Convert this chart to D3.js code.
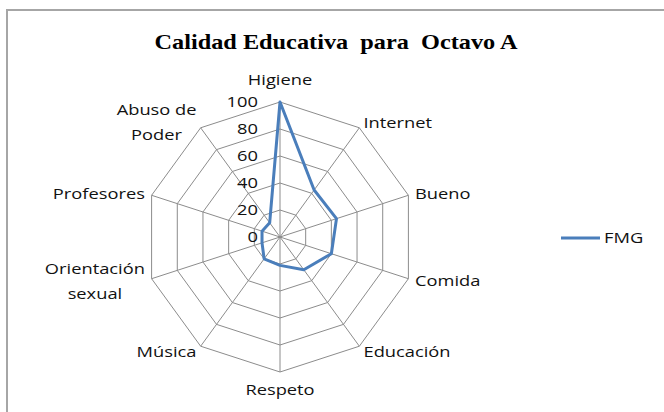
<!DOCTYPE html>
<html>
<head>
<meta charset="utf-8">
<script src="https://cdn.jsdelivr.net/npm/d3@7"></script>
<style>
  body { margin: 0; background: #fff; }
  svg { display: block; }
  text { font-family: "Open Sans", sans-serif; fill: #111; }
</style>
</head>
<body>
<svg id="chart" width="664" height="412"></svg>
<script>
// axes of the radar, clockwise from the top
var categories = ["Higiene", "Internet", "Bueno", "Comida", "Educación",
                  "Respeto", "Música", "Orientación sexual", "Profesores", "Abuso de Poder"];
// label lines (two-line labels are split the way the chart shows them)
var categoryLines = [["Higiene"], ["Internet"], ["Bueno"], ["Comida"], ["Educación"],
                     ["Respeto"], ["Música"], ["Orientación", "sexual"], ["Profesores"], ["Abuso de", "Poder"]];
var seriesName = "FMG";
var fmgValues = [100, 43, 44, 40, 30, 21, 20, 14, 14, 13];
var tickValues = [0, 20, 40, 60, 80, 100];

function init() {
    var svg = d3.select("#chart");
    var cx = 280, cy = 237, radius = 135;
    var sx = 1.22; // text in the picture is drawn wide
    var fontSize = "15px";

    // chart frame (runs off the right and bottom edges)
    svg.append("rect")
        .attr("x", 7).attr("y", 10)
        .attr("width", 700).attr("height", 450)
        .attr("fill", "none")
        .attr("stroke", "#a6a6a6")
        .attr("stroke-width", 2);

    // title
    svg.append("text")
        .attr("x", 336).attr("y", 49)
        .attr("text-anchor", "middle")
        .style("font-family", "'Liberation Serif', 'Times New Roman', serif")
        .style("font-weight", "bold")
        .style("font-size", "21px")
        .style("fill", "#000")
        .attr("xml:space", "preserve")
        .attr("textLength", 363)
        .attr("lengthAdjust", "spacingAndGlyphs")
        .text("Calidad Educativa  para  Octavo A");

    var r = d3.scaleLinear().domain([0, 100]).range([0, radius]);
    var angle = d3.scaleLinear().domain([0, categories.length]).range([0, 2 * Math.PI]);

    function point(i, v) {
        var a = angle(i);
        return [cx + Math.sin(a) * r(v), cy - Math.cos(a) * r(v)];
    }

    var g = svg.append("g");

    // grid rings
    var ringLine = d3.line().curve(d3.curveLinearClosed);
    g.append("g").attr("class", "rings")
        .selectAll("path")
        .data(tickValues.filter(function (t) { return t > 0; }))
        .enter()
        .append("path")
        .attr("d", function (t) {
            return ringLine(categories.map(function (c, i) { return point(i, t); }));
        })
        .attr("fill", "none")
        .attr("stroke", "#8c8c8c")
        .attr("stroke-width", 1);

    // spokes
    g.append("g").attr("class", "spokes")
        .selectAll("line")
        .data(categories)
        .enter()
        .append("line")
        .attr("x1", cx).attr("y1", cy)
        .attr("x2", function (d, i) { return point(i, 100)[0]; })
        .attr("y2", function (d, i) { return point(i, 100)[1]; })
        .attr("stroke", "#8c8c8c")
        .attr("stroke-width", 1);

    // series
    g.append("path")
        .datum(fmgValues)
        .attr("d", ringLine(fmgValues.map(function (v, i) { return point(i, v); })))
        .attr("fill", "none")
        .attr("stroke", "#4a7ebb")
        .attr("stroke-width", 3)
        .attr("stroke-linejoin", "round");

    // tick labels along the top axis
    g.append("g").attr("class", "ticks")
        .selectAll("text")
        .data(tickValues)
        .enter()
        .append("text")
        .attr("transform", function (t) {
            return "translate(" + (cx - 22) + "," + (cy - r(t)) + ") scale(" + sx + ",1)";
        })
        .attr("text-anchor", "end")
        .attr("dy", "0.36em")
        .style("font-size", fontSize)
        .text(function (t) { return t; });

    // category labels
    var labelR = 142;
    var lh = 25;
    categoryLines.forEach(function (lines, i) {
        var a = angle(i);
        var px = cx + Math.sin(a) * labelR;
        var py = cy - Math.cos(a) * labelR;
        var s = Math.sin(a), c = Math.cos(a);
        var anchor = Math.abs(s) < 0.01 ? "middle" : (s > 0 ? "start" : "end");
        if (Math.abs(s) < 0.01) {
            py += c > 0 ? -15 : 11;
        }
        var lab = g.append("g")
            .attr("transform", "translate(" + px + "," + py + ") scale(" + sx + ",1)");
        var t = lab.append("text")
            .attr("text-anchor", "middle")
            .style("font-size", fontSize);
        lines.forEach(function (ln, k) {
            t.append("tspan")
                .attr("x", 0)
                .attr("y", (k - (lines.length - 1) / 2) * lh)
                .attr("dy", "0.36em")
                .text(ln);
        });
        var w = t.node().getBBox().width;
        var shift = anchor === "start" ? w / 2 : (anchor === "end" ? -w / 2 : 0);
        t.attr("transform", "translate(" + shift + ",0)");
    });

    // legend
    var legend = svg.append("g").attr("transform", "translate(561,238)");
    legend.append("line")
        .attr("x1", 0).attr("x2", 39)
        .attr("stroke", "#4a7ebb")
        .attr("stroke-width", 3);
    legend.append("text")
        .attr("transform", "translate(43,0) scale(" + sx + ",1)")
        .attr("dy", "0.36em")
        .style("font-size", fontSize)
        .text(seriesName);
}

init();
</script>
</body>
</html>
